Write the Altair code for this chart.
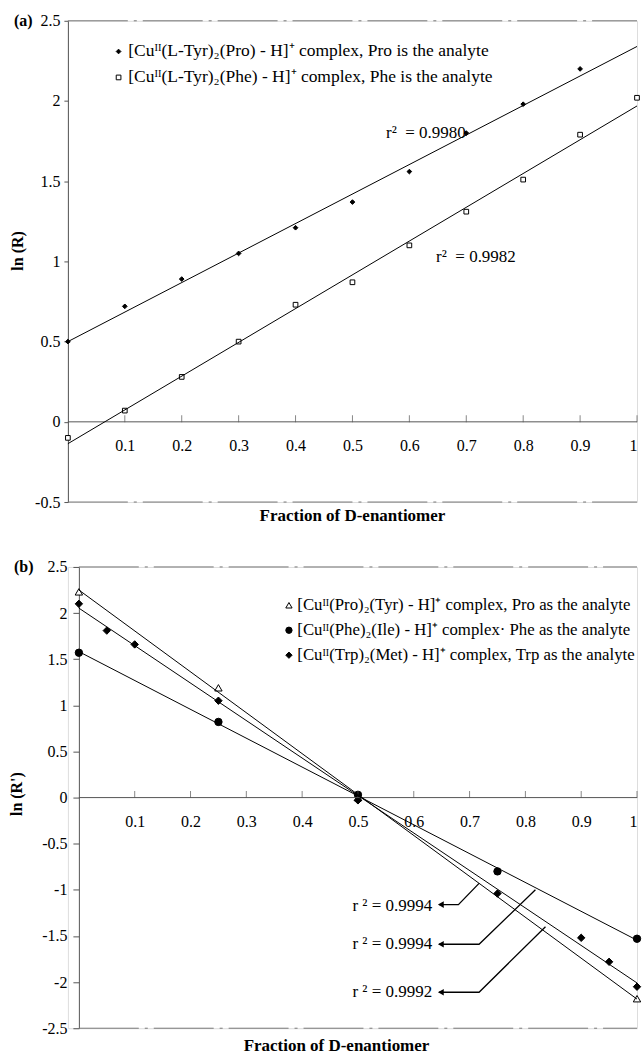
import altair as alt
import pandas as pd

FONT = "Liberation Serif"

# ---------------- panel (a) ----------------
a_frac_pro = [0.0, 0.1, 0.2, 0.3, 0.4, 0.5, 0.6, 0.7, 0.8, 0.9]
a_lnr_pro = [0.50, 0.72, 0.89, 1.05, 1.21, 1.37, 1.56, 1.80, 1.98, 2.20]
a_frac_phe = [0.0, 0.1, 0.2, 0.3, 0.4, 0.5, 0.6, 0.7, 0.8, 0.9, 1.0]
a_lnr_phe = [-0.10, 0.07, 0.28, 0.50, 0.73, 0.87, 1.10, 1.31, 1.51, 1.79, 2.02]
a_names = ["[Cuᴵᴵ(L-Tyr)₂(Pro) - H]⁺ complex, Pro is the analyte",
           "[Cuᴵᴵ(L-Tyr)₂(Phe) - H]⁺ complex, Phe is the analyte"]
a_shapes = ["diamond", "square"]
a_fills = ["black", "white"]
a_r2_text = ["r²\u2002= 0.9980", "r²\u2002= 0.9982"]
a_r2_x = [0.559, 0.647]
a_r2_y = [1.80, 1.03]
a_xticks = [0.1, 0.2, 0.3, 0.4, 0.5, 0.6, 0.7, 0.8, 0.9, 1.0]
a_yticks = [-0.5, 0, 0.5, 1, 1.5, 2, 2.5]
a_ydomain = [-0.5, 2.5]
a_borders = [2.5, -0.5]

# ---------------- panel (b) ----------------
b_frac_pro = [0.0, 0.25, 0.5, 1.0]
b_lnr_pro = [2.23, 1.19, 0.00, -2.18]
b_frac_phe = [0.0, 0.25, 0.5, 0.75, 1.0]
b_lnr_phe = [1.57, 0.82, 0.03, -0.80, -1.53]
b_frac_trp = [0.0, 0.05, 0.1, 0.25, 0.5, 0.75, 0.9, 0.95, 1.0]
b_lnr_trp = [2.10, 1.81, 1.66, 1.05, -0.03, -1.04, -1.52, -1.78, -2.05]
b_names = ["[Cuᴵᴵ(Pro)₂(Tyr) - H]⁺ complex, Pro as the analyte",
           "[Cuᴵᴵ(Phe)₂(Ile) - H]⁺ complex· Phe as the analyte",
           "[Cuᴵᴵ(Trp)₂(Met) - H]⁺ complex, Trp as the analyte"]
b_shapes = ["triangle-up", "circle", "diamond"]
b_fills = ["white", "black", "black"]
b_r2_text = ["r ² = 0.9994", "r ² = 0.9994", "r ² = 0.9992"]
b_r2_x = [0.633, 0.633, 0.633]
b_r2_y = [-1.17, -1.59, -2.11]
b_call_x = [[0.645, 0.680, 0.717], [0.645, 0.717, 0.818], [0.645, 0.717, 0.836]]
b_call_y = [[-1.16, -1.16, -0.93], [-1.59, -1.59, -1.00], [-2.11, -2.11, -1.40]]
b_xticks = [0.1, 0.2, 0.3, 0.4, 0.5, 0.6, 0.7, 0.8, 0.9, 1.0]
b_yticks = [-2.5, -2, -1.5, -1, -0.5, 0, 0.5, 1, 1.5, 2, 2.5]
b_ydomain = [-2.5, 2.5]
b_borders = [2.5, -2.5]

# ---------------- layout constants ----------------
W = 570
HA = 482
HB = 462
B_XMIN = -0.0197

LBL = "'' + datum.value"


def panel(frames, names, shapes, fills, sizes, r2df, align, xdom, ydom, H, xticks,
          yticks, borders, letter, ytitle, legend_xy, leg_font, leg_off, title_dx,
          title_off, ytitle_x, ytitle_y, tick_size, label_pad, callouts=None):
    data = pd.concat(frames, ignore_index=True)
    xs = alt.Scale(domain=xdom, nice=False, zero=False)
    ys = alt.Scale(domain=ydom, nice=False, zero=False)
    zero_off = -H * (0 - ydom[0]) / (ydom[1] - ydom[0])
    y_off = -W * (0 - xdom[0]) / (xdom[1] - xdom[0])

    xaxis = alt.Axis(values=xticks, labelExpr=LBL, offset=zero_off, ticks=False,
                     domain=False, grid=False,
                     labelFont=FONT, labelFontSize=16, labelPadding=16,
                     labelColor="black", title=None)
    yaxis = alt.Axis(values=yticks, labelExpr=LBL, offset=y_off, grid=False,
                     tickSize=tick_size, tickColor="#555", domainColor="#555",
                     labelFont=FONT, labelFontSize=16, labelPadding=label_pad,
                     labelColor="black", title=ytitle, titleFont=FONT,
                     titleFontSize=16, titleFontWeight="bold", titleColor="black",
                     titleX=ytitle_x, titleY=ytitle_y, titleBaseline="middle",
                     titleAlign="center", titleAngle=270)

    leg = alt.Legend(title=None, orient="none", legendX=legend_xy[0],
                     legendY=legend_xy[1], labelFont=FONT, labelFontSize=leg_font,
                     labelColor="black", labelLimit=600, rowPadding=7,
                     padding=0, symbolStrokeColor="black", symbolStrokeWidth=1,
                     symbolSize=sizes[1], labelOffset=leg_off)
    pts = alt.Chart(data).mark_point(filled=True, strokeWidth=1,
                                     opacity=1, size=sizes[0]).encode(
        x=alt.X("frac:Q", scale=xs, axis=xaxis),
        y=alt.Y("lnr:Q", scale=ys, axis=yaxis),
        shape=alt.Shape("series:N", scale=alt.Scale(domain=names, range=shapes),
                        legend=leg),
        fill=alt.Fill("series:N", scale=alt.Scale(domain=names, range=fills),
                      legend=leg),
        stroke=alt.Stroke("series:N",
                          scale=alt.Scale(domain=names, range=["black"] * len(names)),
                          legend=leg),
    )

    lines = alt.Chart(data).transform_regression(
        "frac", "lnr", groupby=["series"], extent=[0, 1]
    ).mark_line(color="black", strokeWidth=1).encode(
        x="frac:Q", y="lnr:Q", detail="series:N",
    )

    bdf = pd.DataFrame({"b": borders, "x0": [0, 0], "x1": [1, 1]})
    border = alt.Chart(bdf).mark_rule(color="#777", strokeWidth=1,
                                      strokeDash=[60, 6, 3, 6]).encode(
        y="b:Q", x="x0:Q", x2="x1:Q",
    )

    tdf = pd.DataFrame({"t": xticks, "z": [0.0] * len(xticks)})
    ticks = alt.Chart(tdf).mark_tick(color="#555", thickness=1, size=7,
                                     yOffset=-3).encode(x="t:Q", y="z:Q")

    zdf = pd.DataFrame({"x0": [0.0], "x1": [1.0], "z": [0.0],
                        "top": [ydom[1]], "lab": [letter[0]]})
    zero = alt.Chart(zdf).mark_rule(color="#555", strokeWidth=1).encode(
        x="x0:Q", x2="x1:Q", y="z:Q")

    r2 = alt.Chart(r2df).mark_text(font=FONT, fontSize=17, color="black",
                                   align=align, baseline="middle").encode(
        x="x:Q", y="y:Q", text="text:N",
    )

    lab = alt.Chart(zdf).mark_text(font=FONT, fontSize=16, fontWeight="bold",
                                   color="black", align="left", baseline="middle",
                                   dx=letter[1]).encode(
        x="x0:Q", y="top:Q", text="lab:N",
    )

    layers = [pts, border, zero, ticks, lines, r2, lab]

    if callouts is not None:
        cx, cy = callouts
        rows = []
        for i, (xx, yy) in enumerate(zip(cx, cy)):
            for j, (a, b) in enumerate(zip(xx, yy)):
                rows.append({"c": i, "o": j, "x": a, "y": b})
        cdf = pd.DataFrame(rows)
        hdf = cdf[cdf["o"] == 0].reset_index(drop=True)
        cl = alt.Chart(cdf).mark_line(color="black", strokeWidth=1.3).encode(
            x="x:Q", y="y:Q", detail="c:N",
        )
        heads = alt.Chart(hdf).mark_point(
            shape="triangle-left", filled=True, color="black", size=45, opacity=1,
            xOffset=2).encode(x="x:Q", y="y:Q")
        layers += [cl, heads]

    return alt.layer(*layers).properties(
        width=W, height=H,
        title=alt.TitleParams("Fraction of D-enantiomer", orient="bottom",
                              font=FONT, fontSize=17, fontWeight="bold",
                              color="black", offset=title_off, dx=title_dx),
    )


a_frames = [
    pd.DataFrame({"frac": a_frac_pro, "lnr": a_lnr_pro, "series": a_names[0]}),
    pd.DataFrame({"frac": a_frac_phe, "lnr": a_lnr_phe, "series": a_names[1]}),
]
a_r2 = pd.DataFrame({"x": a_r2_x, "y": a_r2_y, "text": a_r2_text})

b_frames = [
    pd.DataFrame({"frac": b_frac_pro, "lnr": b_lnr_pro, "series": b_names[0]}),
    pd.DataFrame({"frac": b_frac_phe, "lnr": b_lnr_phe, "series": b_names[1]}),
    pd.DataFrame({"frac": b_frac_trp, "lnr": b_lnr_trp, "series": b_names[2]}),
]
b_r2 = pd.DataFrame({"x": b_r2_x, "y": b_r2_y, "text": b_r2_text})

top = panel(a_frames, a_names, a_shapes, a_fills, (22, 22), a_r2, "left", [0, 1],
            a_ydomain, HA, a_xticks, a_yticks, a_borders, ("(a)", -54), "ln (R)",
            (42, 22), 17.5, 1, 0, -2, -50, 230, 4, 4)
bottom = panel(b_frames, b_names, b_shapes, b_fills, (55, 40), b_r2, "right",
               [B_XMIN, 1], b_ydomain, HB, b_xticks, b_yticks, b_borders,
               ("(b)", -65), "ln (R')", (213, 30), 16.8, 0, -16, 2, -62, 227, 6, 6,
               callouts=(b_call_x, b_call_y))

chart = alt.vconcat(top, bottom, spacing=33).resolve_scale(
    shape="independent", fill="independent", stroke="independent"
).properties(
    padding={"left": 8, "top": 11, "right": 0, "bottom": 0}
).configure_view(stroke=None).configure(font=FONT)

chart.save("out.html", embed_options={"renderer": "svg", "actions": False})
